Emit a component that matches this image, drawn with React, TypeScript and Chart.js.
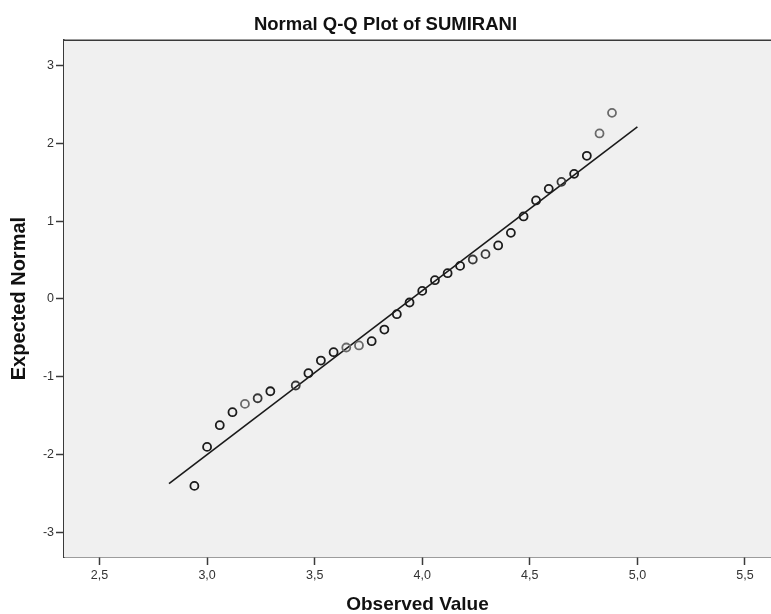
import React, { useEffect, useRef } from "react";
import { Chart, registerables } from "chart.js";

Chart.register(...registerables);

// Observed values (x) and expected normal values (y)
const observed = [
  2.941, 3.0, 3.059, 3.118, 3.176, 3.235, 3.294, 3.412, 3.471, 3.529, 3.588,
  3.647, 3.706, 3.765, 3.824, 3.882, 3.941, 4.0, 4.059, 4.118, 4.176, 4.235,
  4.294, 4.353, 4.412, 4.471, 4.529, 4.588, 4.647, 4.706, 4.765, 4.824, 4.882,
];
const expected = [
  -2.405, -1.903, -1.624, -1.457, -1.35, -1.277, -1.187, -1.113, -0.955, -0.792,
  -0.685, -0.624, -0.598, -0.543, -0.393, -0.196, -0.045, 0.104, 0.242, 0.332,
  0.426, 0.508, 0.577, 0.689, 0.851, 1.062, 1.268, 1.417, 1.507, 1.61, 1.842,
  2.13, 2.395,
];
// Reference line endpoints
const lineX = [2.823, 5.0];
const lineY = [-2.375, 2.215];

const xTicks = [2.5, 3.0, 3.5, 4.0, 4.5, 5.0, 5.5];
const yTicks = [-3, -2, -1, 0, 1, 2, 3];

const title = "Normal Q-Q Plot of SUMIRANI";
const xTitle = "Observed Value";
const yTitle = "Expected Normal";

// point shade (style): D dark, M medium, L light
const pointShade = "DDDDLMDMDDDLLDDDDDDDDMMDDDDDMDDLL";
const shadeColors: Record<string, string> = { D: "#1c1c1c", M: "#383838", L: "#6a6a6a" };

const FONT = "'Liberation Sans', Arial, sans-serif";

export default function App() {
  const ref = useRef<HTMLCanvasElement | null>(null);

  useEffect(() => {
    const canvas = ref.current;
    if (!canvas) return;

    const plotDecor = {
      id: "plotDecor",
      beforeDatasetsDraw(chart: any) {
        const { ctx, chartArea } = chart;
        ctx.save();
        ctx.fillStyle = "#f0f0f0";
        ctx.fillRect(chartArea.left, chartArea.top, chartArea.right - chartArea.left, chartArea.bottom - chartArea.top);
        ctx.strokeStyle = "#3a3a3a";
        ctx.lineWidth = 1.5;
        ctx.beginPath();
        ctx.moveTo(chartArea.left, chartArea.top);
        ctx.lineTo(chartArea.right, chartArea.top);
        ctx.stroke();
        ctx.restore();
      },
    };

    const chart = new Chart(canvas, {
      type: "scatter",
      data: {
        datasets: [
          {
            type: "scatter",
            data: observed.map((x, i) => ({ x, y: expected[i] })),
            pointStyle: "circle",
            pointRadius: 4,
            pointBorderWidth: 1.8,
            backgroundColor: "rgba(0,0,0,0)",
            borderColor: observed.map((_, i) => shadeColors[pointShade[i]] || "#1c1c1c"),
            pointBackgroundColor: "rgba(0,0,0,0)",
            pointBorderColor: observed.map((_, i) => shadeColors[pointShade[i]] || "#1c1c1c"),
          } as any,
          {
            type: "line",
            data: lineX.map((x, i) => ({ x, y: lineY[i] })),
            borderColor: "#1a1a1a",
            borderWidth: 1.6,
            pointRadius: 0,
            fill: false,
          } as any,
        ],
      },
      options: {
        responsive: false,
        animation: false,
        layout: { autoPadding: false, padding: 0 },
        plugins: {
          legend: { display: false },
          tooltip: { enabled: false },
          title: {
            display: true,
            text: title,
            color: "#111",
            font: { family: FONT, size: 18.5, weight: "bold", lineHeight: 1.2 },
            padding: { top: 14, bottom: 4 },
          },
        },
        scales: {
          x: {
            type: "linear",
            min: 2.335,
            max: 5.621,
            afterFit(scale: any) {
              scale.height = 57;
              scale.paddingLeft = 0;
              scale.paddingRight = 0;
            },
            afterBuildTicks(scale: any) {
              scale.ticks = xTicks.map((v) => ({ value: v }));
            },
            grid: {
              drawOnChartArea: false,
              drawTicks: true,
              tickLength: 8,
              tickColor: "#3a3a3a",
              tickWidth: 1.5,
            },
            border: { display: true, color: "#3a3a3a", width: 1.5 },
            ticks: {
              padding: 3,
              color: "#333",
              font: { family: FONT, size: 12.5 },
              maxRotation: 0,
              autoSkip: false,
              callback: (v: any) => Number(v).toFixed(1).replace(".", ","),
            },
            title: {
              display: true,
              text: xTitle,
              color: "#111",
              font: { family: FONT, size: 19, weight: "bold", lineHeight: 1.0 },
              padding: { top: 0, bottom: 0 },
            },
          },
          y: {
            type: "linear",
            min: -3.32,
            max: 3.33,
            afterFit(scale: any) {
              scale.width = 64;
              scale.paddingTop = 0;
              scale.paddingBottom = 0;
            },
            afterBuildTicks(scale: any) {
              scale.ticks = yTicks.map((v) => ({ value: v }));
            },
            grid: {
              drawOnChartArea: false,
              drawTicks: true,
              tickLength: 8,
              tickColor: "#3a3a3a",
              tickWidth: 1.5,
            },
            border: { display: true, color: "#3a3a3a", width: 1.5 },
            ticks: {
              padding: 2,
              color: "#333",
              font: { family: FONT, size: 12.5 },
              autoSkip: false,
              callback: (v: any) => String(v),
            },
            title: {
              display: true,
              text: yTitle,
              color: "#111",
              font: { family: FONT, size: 20, weight: "bold", lineHeight: 1.0 },
              padding: { top: 9, bottom: 0 },
            },
          },
        },
      },
      plugins: [plotDecor],
    } as any);

    return () => chart.destroy();
  }, []);

  return (
    <div style={{ position: "fixed", left: 0, top: 0, width: 771, height: 614, background: "#fff", overflow: "hidden" }}>
      <canvas ref={ref} width={771} height={614} style={{ width: 771, height: 614, display: "block" }} />
    </div>
  );
}
